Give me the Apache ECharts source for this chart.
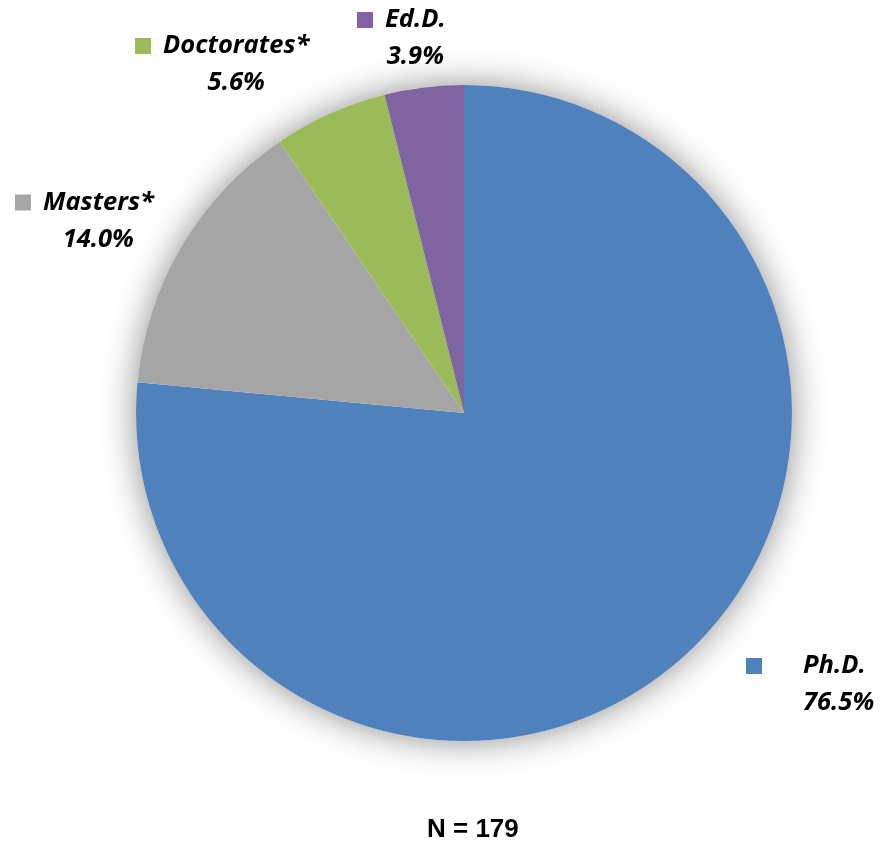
<!DOCTYPE html>
<html>
<head>
<meta charset="utf-8">
<script src="https://cdn.jsdelivr.net/npm/echarts@6/dist/echarts.min.js"></script>
<style>
html,body{margin:0;padding:0;background:#fff;}
#chart{width:880px;height:843px;}
</style>
</head>
<body>
<div id="chart"></div>
<script>
// Data
var categories = ['Ph.D.', 'Masters*', 'Doctorates*', 'Ed.D.'];
var values = [76.5, 14.0, 5.6, 3.9];
var colors = ['#4F81BD', '#A5A5A5', '#9BBB59', '#8064A2'];
var footnote = 'N = 179';

// label anchor positions (top-left) and marker gaps – layout only
var labelPos = [[746, 647.5], [15, 184], [135, 27.5], [357, 1.5]];
var gapKey = ['gapL', 'gapS', 'gapS', 'gapS'];
var padKey = ['padL', 'padS', 'padS', 'padS'];

var chart = echarts.init(document.getElementById('chart'), null, {renderer: 'canvas'});

var FONT = 'Open Sans';
var FS = 25.5;
var richBase = {
  gapS: {width: 12},
  gapL: {width: 41},
  padS: {width: 28, align: 'center'},
  padL: {width: 57, align: 'center'},
  name: {fontFamily: FONT, fontWeight: 'bold', fontStyle: 'italic', fontSize: FS, color: '#000', lineHeight: 37},
  val: {fontFamily: FONT, fontWeight: 'bold', fontStyle: 'italic', fontSize: FS, color: '#000', lineHeight: 37, align: 'center'}
};
categories.forEach(function (c, i) {
  richBase['sq' + i] = {width: 16, height: 16, backgroundColor: colors[i]};
});

var pieData = categories.map(function (c, i) {
  return {name: c, value: values[i], itemStyle: {color: colors[i]}};
});

chart.setOption({
  animation: false,
  backgroundColor: '#fff',
  title: {
    text: footnote,
    left: 422,
    top: 812,
    textStyle: {fontFamily: 'Liberation Sans', fontWeight: 'bold', fontSize: 26, color: '#000'}
  },
  series: [
    {
      type: 'pie',
      silent: true,
      center: [464, 413],
      radius: 328,
      z: 1,
      label: {show: false},
      labelLine: {show: false},
      itemStyle: {color: '#fff', shadowBlur: 35, shadowColor: 'rgba(0,0,0,0.45)'},
      data: [{value: 1}]
    },
    {
      type: 'pie',
      center: [464, 413],
      radius: 328,
      startAngle: 90,
      clockwise: true,
      z: 2,
      data: pieData,
      itemStyle: {borderWidth: 0},
      labelLine: {show: false},
      label: {
        show: true,
        position: 'outside',
        overflow: 'none',
        edgeDistance: 0,
        bleedMargin: 0,
        formatter: function (p) {
          var i = p.dataIndex;
          return '{sq' + i + '|}{' + gapKey[i] + '|}{name|' + p.name + '}\n{' + padKey[i] + '|}{val|' + p.value.toFixed(1) + '%}';
        },
        rich: richBase
      },
      labelLayout: function (params) {
        var pos = labelPos[params.dataIndex];
        return {x: pos[0], y: pos[1], align: 'left', verticalAlign: 'top'};
      }
    }
  ]
});
</script>
</body>
</html>
